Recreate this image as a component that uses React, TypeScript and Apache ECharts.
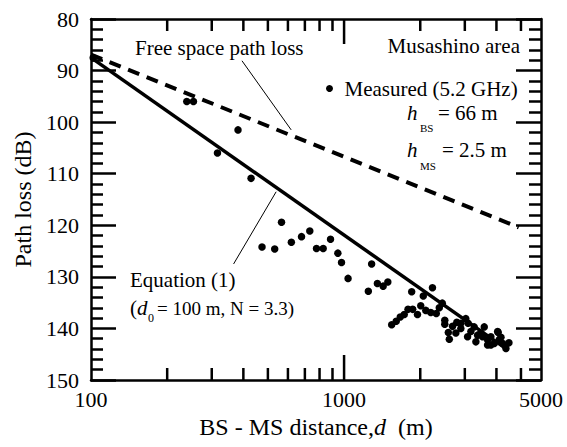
import React, { useEffect, useRef } from 'react';
import * as echarts from 'echarts';

// Measured path loss: [BS-MS distance (m), path loss (dB)]
const measuredPoints: [number, number][] = [
  [102, 87.5], [239, 96.0], [254, 96.0], [381, 101.5], [316, 106.0], [429, 110.9],
  [566, 119.4], [474, 124.2], [532, 124.6], [619, 123.3], [679, 122.2], [732, 121.1],
  [778, 124.5], [827, 124.5], [884, 122.7], [945, 125.4], [977, 127.2], [1037, 130.3],
  [1285, 127.5], [1247, 132.8], [1354, 131.3], [1427, 131.8], [1489, 131.0],
  [1850, 132.9], [2056, 133.7], [2235, 132.1], [2444, 135.1],
  [1542, 139.3], [1607, 138.6], [1667, 137.8], [1729, 137.3], [1789, 136.3], [1867, 136.3],
  [1950, 137.3], [2009, 135.6], [2103, 136.5], [2201, 136.9], [2314, 137.1], [2378, 136.0],
  [2500, 139.2], [2582, 140.8], [2605, 142.1], [2683, 139.6], [2790, 138.8], [2893, 140.0],
  [3027, 138.1], [3090, 139.0], [3170, 140.6], [3266, 139.7], [3370, 141.3], [3580, 139.7],
  [3526, 141.6], [3690, 142.2], [3802, 141.6], [3920, 142.9], [4044, 140.6], [4102, 142.2],
  [4231, 142.9], [4362, 143.9], [2765, 140.9], [3076, 141.6], [3318, 142.6], [3690, 143.2],
  [4064, 140.8], [2893, 139.0], [3472, 140.9], [3802, 143.2], [4168, 141.7], [4482, 142.8],
  [2500, 138.4],
];

// Free space path loss (dashed) end points
const freeSpaceLine: [number, number][] = [[100, 86.9], [4900, 120.4]];
// Equation (1), d0 = 100 m, N = 3.3 (solid) end points
const equationLine: [number, number][] = [[100, 87.5], [4450, 144.2]];

// Leader lines from labels to curves
const freeSpaceLeader: [number, number][] = [[395, 88.1], [618, 101.5]];
const equationLeader: [number, number][] = [[539, 113.5], [366, 127.5]];

// Axis ranges and ticks
const xMin = 100;
const xMax = 6000;
const yMin = 80;
const yMax = 150;
const xMajorTicks = [1000];
const xMinorTicks = [200, 300, 400, 500, 600, 700, 800, 900, 2000, 3000, 4000, 5000];
const xTickLabels: Record<number, string> = { 100: '100', 1000: '1000', 6000: '5000' };

const FONT = 'Liberation Serif';
const TICK_COLOR = '#000';
const TICK_W = 2.5;
const MINOR_LEN = 12;
const MAJOR_LEN = 25;

// x ticks (log axis) drawn at bottom and top edges through the axis scale
function xTickSeries(values: number[], len: number, edge: number, dir: number) {
  return {
    type: 'custom',
    data: values.map((v) => [v, edge]),
    renderItem: (_p: any, api: any) => {
      const c = api.coord([api.value(0), api.value(1)]);
      return {
        type: 'rect',
        shape: { x: c[0] - TICK_W / 2, y: dir < 0 ? c[1] - len : c[1], width: TICK_W, height: len },
        style: { fill: TICK_COLOR },
      };
    },
  };
}

function txt(text: string, x: number, y: number, opts: any = {}) {
  return {
    type: 'text',
    x,
    y,
    silent: true,
    style: {
      text,
      fill: '#000',
      font: `${opts.italic ? 'italic ' : ''}${opts.size || 21}px "${FONT}"`,
      align: opts.align || 'left',
      verticalAlign: 'middle',
    },
  };
}

const annotations = [
  txt('Free space path loss', 135, 48),
  txt('Musashino area', 520, 46, { align: 'right' }),
  txt('h', 407, 113, { italic: true }),
  txt('BS', 420, 128, { size: 11 }),
  txt('= 66 m', 438, 113),
  txt('h', 407, 150, { italic: true }),
  txt('MS', 420, 166, { size: 11 }),
  txt('= 2.5 m', 442, 150),
  txt('Equation (1)', 130, 280),
  txt('(', 130, 308),
  txt('d', 137, 308, { italic: true }),
  txt('0', 148, 318, { size: 12 }),
  txt('= 100 m, N = 3.3)', 157, 308, { size: 19 }),
];

export default function App() {
  const ref = useRef<HTMLDivElement>(null);

  useEffect(() => {
    document.body.style.margin = '0';
    if (!ref.current) return;
    const chart = echarts.init(ref.current, undefined, { renderer: 'svg' });

    const axisLine = () => ({ show: true, onZero: false, lineStyle: { color: '#000', width: 2.5 } });
    const yTick = () => ({ show: true, inside: true, length: MAJOR_LEN, lineStyle: { color: TICK_COLOR, width: TICK_W } });
    const yMinor = () => ({ show: true, splitNumber: 5, length: MINOR_LEN, lineStyle: { color: TICK_COLOR, width: TICK_W } });

    const option: any = {
      animation: false,
      textStyle: { fontFamily: FONT, color: '#000' },
      grid: { left: 91, right: 26, top: 19, bottom: 67, containLabel: false },
      legend: {
        data: ['Measured (5.2 GHz)'],
        left: 326,
        top: 78,
        padding: 0,
        itemWidth: 20,
        itemHeight: 7,
        selectedMode: false,
        textStyle: { fontSize: 21, fontFamily: FONT, color: '#000' },
      },
      xAxis: [
        {
          type: 'log',
          logBase: 10,
          min: xMin,
          max: xMax,
          position: 'bottom',
          axisLine: axisLine(),
          axisTick: { show: false },
          minorTick: { show: false },
          splitLine: { show: false },
          axisLabel: {
            fontSize: 22,
            fontFamily: FONT,
            color: '#000',
            margin: 8,
            showMinLabel: true,
            showMaxLabel: true,
            formatter: (v: number) => xTickLabels[Math.round(v)] || '',
          },
          name: '{n|BS - MS distance,}{i|d}{n|\u00a0\u00a0(m)}',
          nameLocation: 'middle',
          nameGap: 35,
          nameTextStyle: {
            rich: {
              n: { fontSize: 24, fontFamily: FONT, color: '#000' },
              i: { fontSize: 24, fontFamily: FONT, fontStyle: 'italic', color: '#000' },
            },
          },
        },
        {
          type: 'log',
          logBase: 10,
          min: xMin,
          max: xMax,
          position: 'top',
          axisLine: axisLine(),
          axisTick: { show: false },
          axisLabel: { show: false },
          splitLine: { show: false },
        },
      ],
      yAxis: [
        {
          type: 'value',
          min: yMin,
          max: yMax,
          interval: 10,
          inverse: true,
          position: 'left',
          axisLine: axisLine(),
          axisTick: yTick(),
          minorTick: yMinor(),
          splitLine: { show: false },
          axisLabel: { fontSize: 22, fontFamily: FONT, color: '#000', margin: 12 },
          name: 'Path loss (dB)',
          nameLocation: 'middle',
          nameGap: 55,
          nameRotate: 90,
          nameTextStyle: { fontSize: 24, fontFamily: FONT, color: '#000' },
        },
        {
          type: 'value',
          min: yMin,
          max: yMax,
          interval: 10,
          inverse: true,
          position: 'right',
          axisLine: axisLine(),
          axisTick: yTick(),
          minorTick: yMinor(),
          splitLine: { show: false },
          axisLabel: { show: false },
        },
      ],
      series: [
        {
          name: 'Free space path loss',
          type: 'line',
          data: freeSpaceLine,
          symbol: 'none',
          lineStyle: { color: '#000', width: 4, type: [12, 8], cap: 'butt' },
        },
        {
          name: 'Equation (1)',
          type: 'line',
          data: equationLine,
          symbol: 'none',
          lineStyle: { color: '#000', width: 3.5 },
        },
        {
          name: 'leader-free',
          type: 'line',
          data: freeSpaceLeader,
          symbol: 'none',
          lineStyle: { color: '#000', width: 1 },
        },
        {
          name: 'leader-eq',
          type: 'line',
          data: equationLeader,
          symbol: 'none',
          lineStyle: { color: '#000', width: 1 },
        },
        {
          name: 'Measured (5.2 GHz)',
          type: 'scatter',
          data: measuredPoints,
          symbol: 'circle',
          symbolSize: 7.5,
          itemStyle: { color: '#000', opacity: 1 },
        },
        xTickSeries(xMinorTicks, MINOR_LEN, yMax, -1),
        xTickSeries(xMinorTicks, MINOR_LEN, yMin, 1),
        xTickSeries(xMajorTicks, MAJOR_LEN, yMax, -1),
        xTickSeries(xMajorTicks, MAJOR_LEN, yMin, 1),
      ],
      graphic: annotations,
    };

    chart.setOption(option);
    return () => {
      chart.dispose();
    };
  }, []);

  return <div ref={ref} style={{ width: 567, height: 447 }} />;
}
